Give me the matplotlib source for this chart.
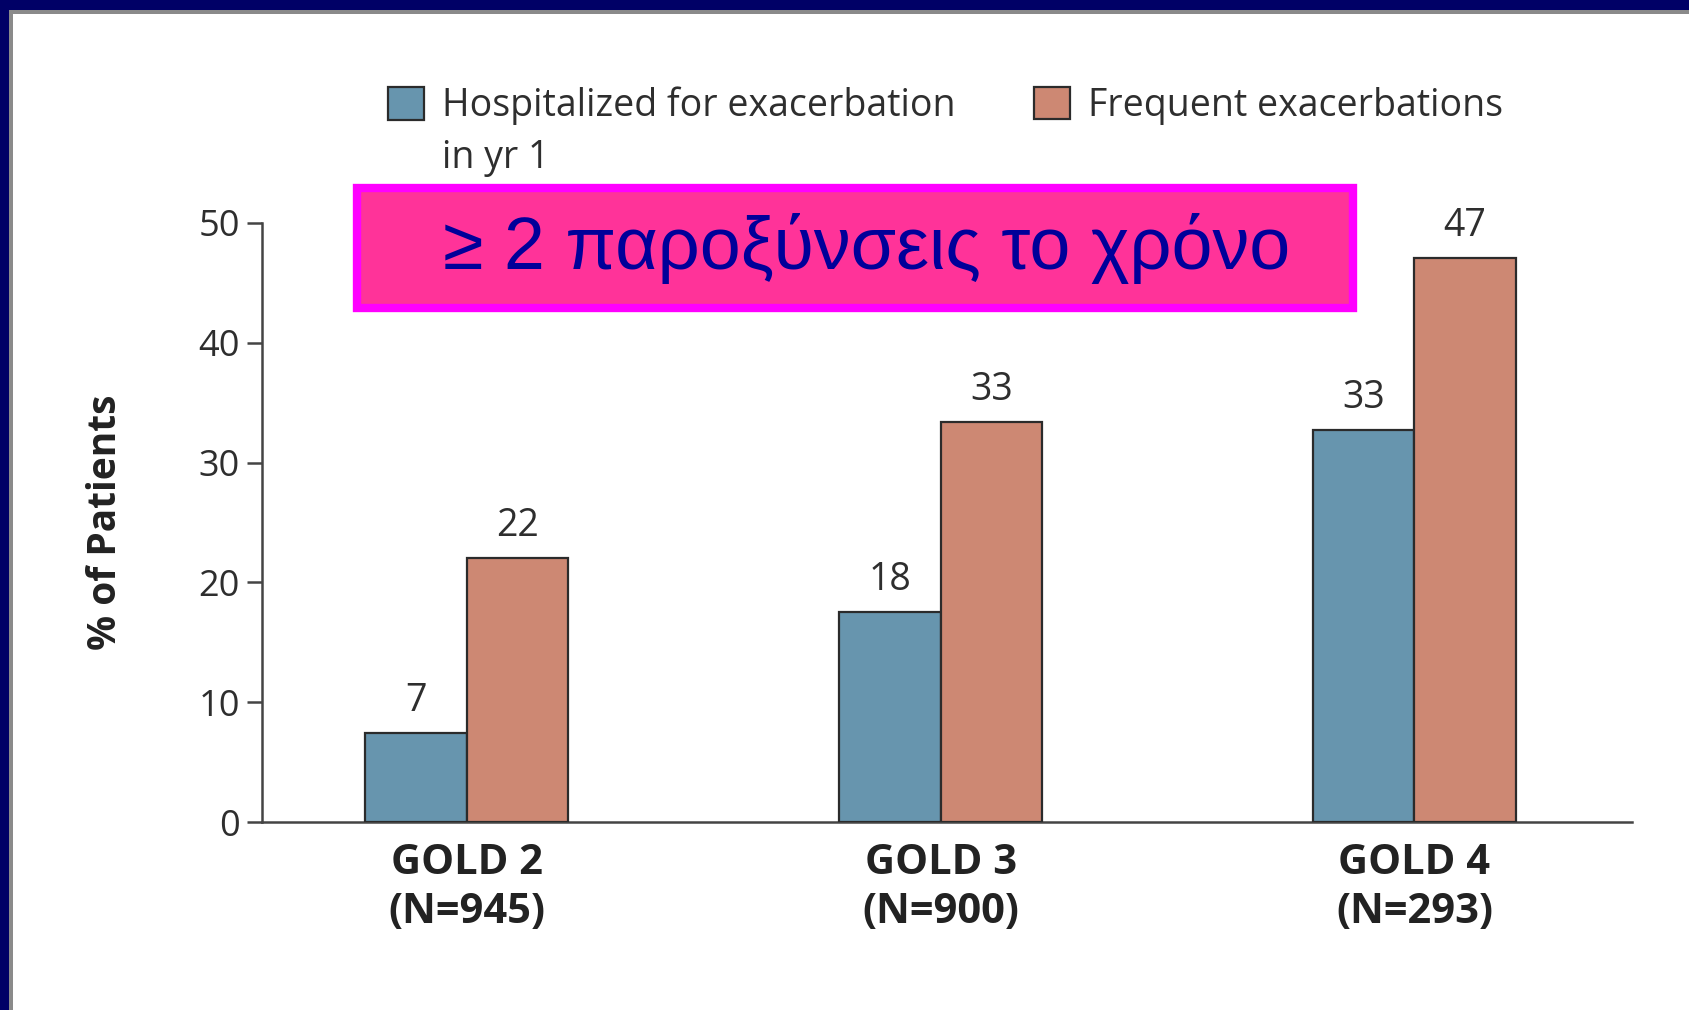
import matplotlib
matplotlib.use("Agg")
import matplotlib.pyplot as plt
from matplotlib.patches import Rectangle, Patch
import numpy as np

# ---- data ----
categories = ["GOLD 2\n(N=945)", "GOLD 3\n(N=900)", "GOLD 4\n(N=293)"]
hospitalized = [7.4, 17.5, 32.7]
hospitalized_labels = ["7", "18", "33"]
frequent = [22.0, 33.4, 47.1]
frequent_labels = ["22", "33", "47"]
series_names = ["Hospitalized for exacerbation\nin yr 1", "Frequent exacerbations"]
y_ticks = [0, 10, 20, 30, 40, 50]
y_label = "% of Patients"
banner_text = "≥ 2 παροξύνσεις το χρόνο"

# ---- style ----
W, H = 1689, 1010
blue = "#6795AE"
orange = "#CD8873"
edge = "#2b2b2b"
txt = "#2e2e2e"
axis_col = "#444444"
font = ["Open Sans", "DejaVu Sans"]
plt.rcParams["font.family"] = font

fig = plt.figure(figsize=(W / 100, H / 100), dpi=100)
fig.patch.set_facecolor("white")

# frame decorations (navy border top/left, grey inner line)
fig.patches.append(Rectangle((0, 1 - 10 / H), 1, 10 / H, transform=fig.transFigure,
                             facecolor="#000066", edgecolor="none", zorder=0))
fig.patches.append(Rectangle((0, 0), 9 / W, 1, transform=fig.transFigure,
                             facecolor="#000066", edgecolor="none", zorder=0))
fig.patches.append(Rectangle((9 / W, 1 - 14 / H), 1 - 9 / W, 4 / H, transform=fig.transFigure,
                             facecolor="#8a8a8a", edgecolor="none", zorder=0))
fig.patches.append(Rectangle((9 / W, 0), 4 / W, 1 - 10 / H, transform=fig.transFigure,
                             facecolor="#8a8a8a", edgecolor="none", zorder=0))

ax_left, ax_right, ax_bottom, ax_top = 262, 1632, 822, 223
ax = fig.add_axes([ax_left / W, 1 - ax_bottom / H, (ax_right - ax_left) / W,
                   (ax_bottom - ax_top) / H])

x = np.arange(len(categories))
bw = 0.2136
b1 = ax.bar(x - bw / 2, hospitalized, bw, color=blue, edgecolor=edge, linewidth=1.6, zorder=3)
b2 = ax.bar(x + bw / 2, frequent, bw, color=orange, edgecolor=edge, linewidth=1.6, zorder=3)

for bars, labs in ((b1, hospitalized_labels), (b2, frequent_labels)):
    for rect, lab in zip(bars, labs):
        ax.annotate(lab, (rect.get_x() + rect.get_width() / 2, rect.get_height()),
                    xytext=(0, 16), textcoords="offset points", ha="center", va="baseline",
                    fontsize=27, color=txt)

ax.set_xlim(-0.432, 2.459)
ax.set_ylim(0, 50)
ax.set_yticks(y_ticks)
ax.set_xticks(x)
ax.set_xticklabels(categories, fontsize=30, fontweight="bold", color="#222222",
                   linespacing=1.25)
ax.tick_params(axis="x", length=0, pad=15)
ax.tick_params(axis="y", direction="out", length=11, width=1.8, color=axis_col,
               labelsize=26, labelcolor=txt, pad=5)
for s in ("top", "right"):
    ax.spines[s].set_visible(False)
for s in ("left", "bottom"):
    ax.spines[s].set_color(axis_col)
    ax.spines[s].set_linewidth(1.8)
ax.set_ylabel(y_label, fontsize=28, fontweight="bold", color="#222222")
ax.yaxis.set_label_coords(-0.10, 0.5)

# legend (two entries positioned like the reference)
first_line, rest = series_names[0].split("\n", 1)
h1 = Patch(facecolor=blue, edgecolor=edge, linewidth=1.6)
h2 = Patch(facecolor=orange, edgecolor=edge, linewidth=1.6)
leg_fs = 27
leg_kw = dict(frameon=False, fontsize=leg_fs, borderpad=0, borderaxespad=0,
              handlelength=0.95, handleheight=0.95, handletextpad=0.5,
              labelcolor=txt, loc="center left")
leg_y = 1 - 106 / H
fig.legend([h1], [first_line], bbox_to_anchor=(388 / W, leg_y), **leg_kw)
fig.legend([h2], [series_names[1]], bbox_to_anchor=(1034 / W, leg_y), **leg_kw)
fig.text(442 / W, 1 - 168 / H, rest, ha="left", va="baseline", fontsize=leg_fs, color=txt)

# pink banner
bx0, bx1, by0, by1 = 357, 1353, 188, 308
fig.patches.append(Rectangle((bx0 / W, 1 - by1 / H), (bx1 - bx0) / W, (by1 - by0) / H,
                             transform=fig.transFigure, facecolor="#FF3399",
                             edgecolor="#FF00FF", linewidth=6, zorder=5))
fig.text(867 / W, 1 - 248 / H, banner_text, ha="center", va="center", fontsize=53,
         color="#000099", family=["Liberation Sans", "DejaVu Sans"], zorder=6)

fig.savefig("out.png", dpi=100, facecolor="white")
